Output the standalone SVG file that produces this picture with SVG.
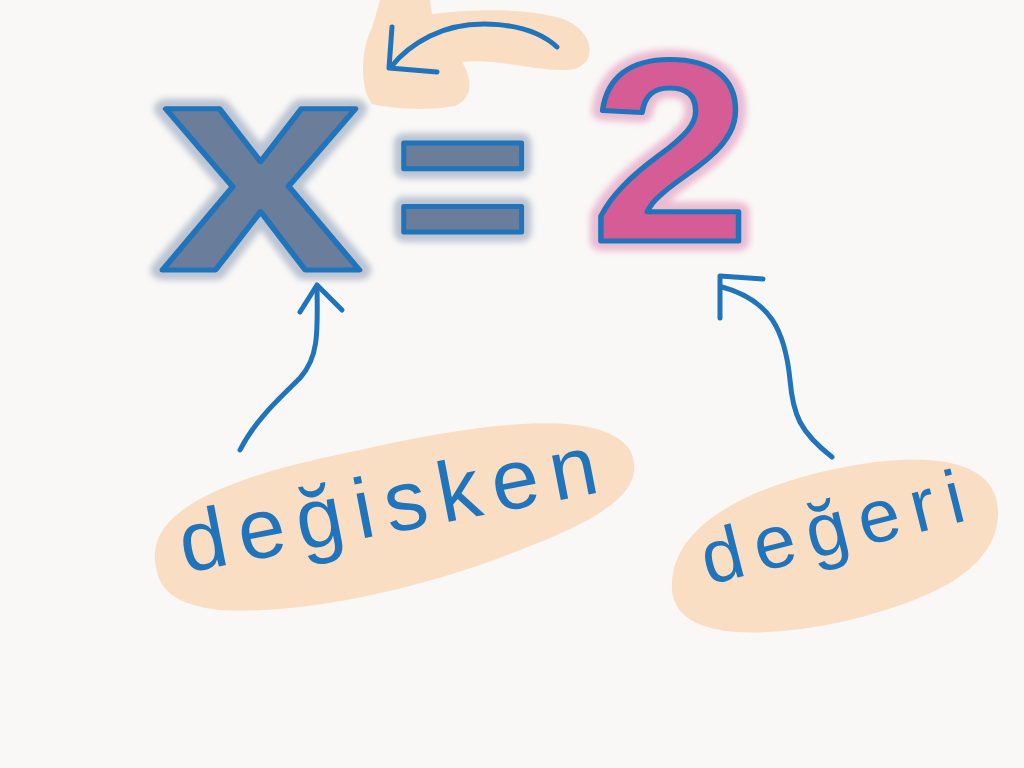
<svg xmlns="http://www.w3.org/2000/svg" width="1024" height="768" viewBox="0 0 1024 768">
<defs>
<filter id="soft" x="-20%" y="-20%" width="140%" height="140%"><feGaussianBlur stdDeviation="3"/></filter>
</defs>
<style>
.ink{fill:none;stroke:#1f74bb;stroke-width:5;stroke-linecap:round;stroke-linejoin:round}
.blob{fill:#f9dec4}
.hand{font-family:"Liberation Sans","DejaVu Sans",sans-serif;fill:#1f74bb}
.big{font-family:"Liberation Sans",Arial,sans-serif;font-weight:bold;stroke:#1f74bb;stroke-width:5;stroke-linejoin:round}
.halo{font-family:"Liberation Sans",Arial,sans-serif;font-weight:bold;stroke-width:20;stroke-linejoin:round;opacity:0.55;filter:url(#soft)}
</style>
<rect width="1024" height="768" fill="#f9f8f7"/>
<g id="top-swap">
<path class="blob" d="M380,0 L430,0 L432,14 C475,9 525,8 560,18 C592,28 600,60 575,69 C545,74 500,58 462,62 C472,78 474,98 455,106 C430,111 392,109 372,104 C360,90 360,50 372,28 Z"/>
<path class="ink" d="M557,47 C530,22 470,16 430,36 C410,46 398,58 391,67"/>
<path class="ink" d="M392,27 L389,68 L437,72"/>
</g>
<g id="x">
<text class="halo" x="160" y="270" font-size="305" textLength="202" lengthAdjust="spacingAndGlyphs" fill="#8a9ab2" stroke="#8a9ab2">x</text>
<text class="big" x="160" y="270" font-size="305" textLength="202" lengthAdjust="spacingAndGlyphs" fill="#6a7d9a">x</text>
</g>
<g id="equals">
<text class="halo" x="394" y="266" font-size="235" fill="#8a9ab2" stroke="#8a9ab2">=</text>
<text class="big" x="394" y="266" font-size="235" fill="#6a7d9a">=</text>
</g>
<g id="two">
<text class="halo" x="591" y="241" font-size="260" textLength="159" lengthAdjust="spacingAndGlyphs" fill="#e08ab2" stroke="#e08ab2">2</text>
<text class="big" x="591" y="241" font-size="260" textLength="159" lengthAdjust="spacingAndGlyphs" fill="#d65c95">2</text>
</g>
<g id="degisken">
<path class="blob" d="M155,560 C150,500 260,470 360,450 C470,425 600,405 630,450 C650,490 600,520 520,550 C420,590 300,615 220,610 C175,605 157,590 155,560 Z"/>
<text class="hand" x="185" y="573" font-size="85" letter-spacing="12" transform="rotate(-11 185 573)">değisken</text>
</g>
<g id="degeri">
<path class="blob" d="M672,590 C668,530 740,490 830,470 C920,450 1000,455 998,515 C996,570 930,600 850,620 C760,640 676,640 672,590 Z"/>
<text class="hand" x="708" y="585" font-size="75" letter-spacing="12" transform="rotate(-14 708 585)">değeri</text>
</g>
<g id="connectors">
<path class="ink" d="M240,450 C255,420 280,398 300,378 C318,358 318,335 317,287"/>
<path class="ink" d="M300,312 L317,285 L342,310"/>
<path class="ink" d="M832,457 C800,432 793,415 790,380 C785,330 770,300 722,287"/>
<path class="ink" d="M720,318 L720,276 L763,279"/>
</g>
</svg>
